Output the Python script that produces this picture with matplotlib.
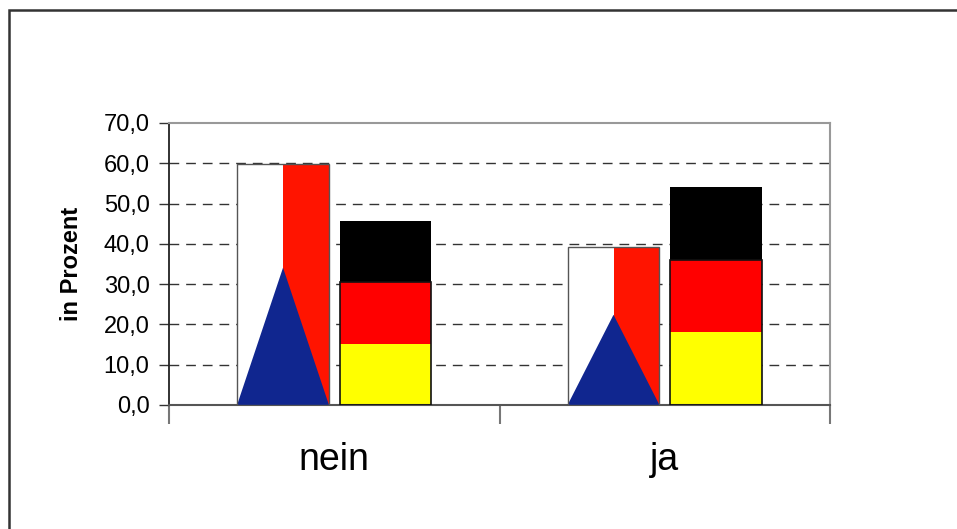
import matplotlib
matplotlib.use("Agg")
import matplotlib.pyplot as plt
from matplotlib.patches import Polygon, Rectangle
import numpy as np

plt.rcParams['font.family'] = ['Liberation Sans', 'DejaVu Sans']

categories = ["nein", "ja"]
cz_values = [59.8, 39.3]      # bar with Czech flag fill
de_values = [45.7, 54.1]      # bar with German flag fill
yticks = [0, 10, 20, 30, 40, 50, 60, 70]
ytick_labels = ["0,0", "10,0", "20,0", "30,0", "40,0", "50,0", "60,0", "70,0"]
ylabel = "in Prozent"

fig = plt.figure(figsize=(9.57, 5.29), dpi=100)
ax = fig.add_axes([169/957, 1-405/529, (830-169)/957, (405-123)/529])

x = np.arange(len(categories))
w = 0.278
off = 0.155

CZ_BLUE = "#10268f"
CZ_RED = "#ff1400"

for xi, v in zip(x, cz_values):
    xc = xi - off
    x0, x1 = xc - w/2, xc + w/2
    ax.add_patch(Rectangle((x0, 0), w, v, facecolor="white", edgecolor="none", zorder=2))
    ax.add_patch(Rectangle((xc, 0), w/2, v, facecolor=CZ_RED, edgecolor="none", zorder=2))
    ax.add_patch(Polygon([(x0, 0), (x1, 0), (xc, 0.57*v)], closed=True,
                         facecolor=CZ_BLUE, edgecolor="none", zorder=3))
    ax.add_patch(Rectangle((x0, 0), w, v, facecolor="none", edgecolor="#555555",
                           lw=1.0, zorder=4))

for xi, v in zip(x, de_values):
    xc = xi + off
    x0 = xc - w/2
    ax.add_patch(Rectangle((x0, 0), w, v/3, facecolor="#ffff00", edgecolor="none", zorder=2))
    ax.add_patch(Rectangle((x0, v/3), w, v/3, facecolor="#ff0000", edgecolor="none", zorder=2))
    ax.add_patch(Rectangle((x0, 2*v/3), w, v/3, facecolor="#000000", edgecolor="none", zorder=2))
    ax.add_patch(Rectangle((x0, 0), w, 2*v/3, facecolor="none", edgecolor="#111111",
                           lw=1.2, zorder=4))

ax.set_xlim(-0.5, 1.5)
ax.set_ylim(0, 70)

for yv in yticks[1:-1]:
    ax.axhline(yv, color="#333333", lw=1.0, ls=(0, (7, 5)), zorder=1)

ax.set_yticks(yticks)
ax.set_yticklabels(ytick_labels, fontsize=17)
ax.tick_params(axis='y', direction='out', length=7, width=1, color="#333333", pad=7)

ax.set_xticks([-0.5, 0.5, 1.5])
ax.set_xticklabels(["", "", ""])
ax.tick_params(axis='x', which='major', direction='out', length=14, width=1.5, color="#777777")
ax.set_xticks(x, minor=True)
ax.set_xticklabels(categories, minor=True, fontsize=27)
ax.tick_params(axis='x', which='minor', length=0, pad=27)

ax.set_ylabel(ylabel, fontsize=17, fontweight='bold', labelpad=15)

for s in ['top', 'right']:
    ax.spines[s].set_color("#999999")
    ax.spines[s].set_linewidth(1.5)
ax.spines['left'].set_color("#222222")
ax.spines['bottom'].set_color("#555555")
ax.spines['left'].set_linewidth(1.3)
ax.spines['bottom'].set_linewidth(1.5)

fig.patches.append(Rectangle((9/957, -0.2), 1.2, 1.2 - 10/529, transform=fig.transFigure,
                             facecolor="none", edgecolor="#333333", lw=1.8, figure=fig))

fig.savefig("out.png", dpi=100)
